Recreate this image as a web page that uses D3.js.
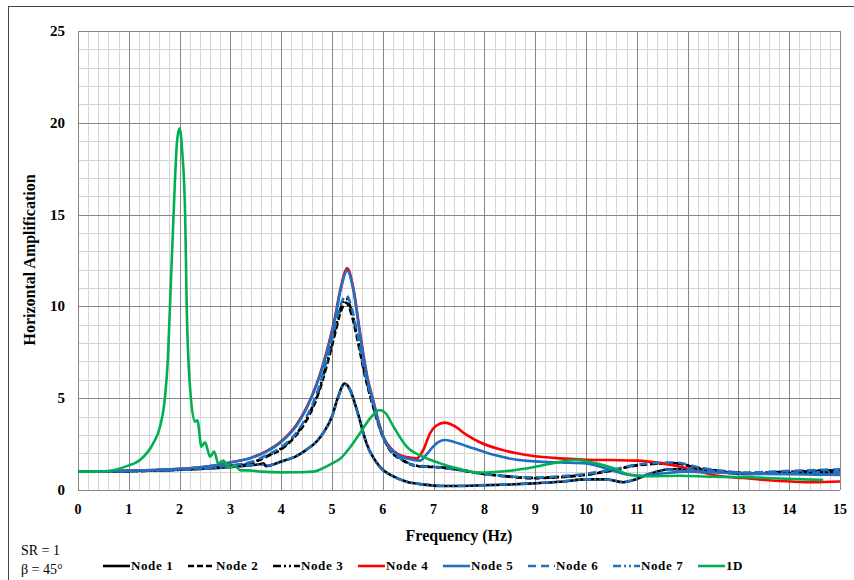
<!DOCTYPE html>
<html lang="en">
<head>
<meta charset="utf-8">
<title>Horizontal Amplification</title>
<script src="https://cdn.jsdelivr.net/npm/d3@7"></script>
<style>
  body { margin: 0; background: #fff; }
  text { font-family: "Liberation Serif", "Times New Roman", serif; }
</style>
</head>
<body>
<script>
// tick labels
var xTicks = [0,1,2,3,4,5,6,7,8,9,10,11,12,13,14,15];
var yTicks = [0,5,10,15,20,25];

// series: [frequency (Hz), amplification]
var node1 = [[0,1.0],[0.5,1.01],[1,1.03],[1.5,1.06],[2,1.1],[2.5,1.16],[3,1.25],[3.3,1.32],[3.6,1.42],[3.65,1.45],[3.7,1.3],[4.0,1.55],[4.3,1.85],[4.5,2.2],[4.7,2.65],[4.85,3.2],[5.0,4.0],[5.1,4.9],[5.25,5.8],[5.35,5.5],[5.49,4.36],[5.68,2.54],[5.94,1.27],[6.2,0.75],[6.47,0.45],[6.8,0.3],[7.13,0.22],[7.5,0.22],[8,0.26],[8.5,0.3],[8.96,0.36],[9.5,0.45],[10,0.58],[10.4,0.58],[10.73,0.42],[11.0,0.6],[11.2,0.82],[11.65,1.13],[12.2,1.13],[12.6,1.0],[13.16,0.87],[14,0.92],[15,0.97]];
var node2 = [[0,1.0],[0.5,1.01],[1,1.03],[1.5,1.06],[2,1.1],[2.5,1.18],[3,1.3],[3.4,1.45],[3.7,1.8],[4.04,2.3],[4.3,3.0],[4.5,3.8],[4.7,5.0],[4.9,6.8],[5.05,8.4],[5.17,9.7],[5.28,10.2],[5.38,9.6],[5.5,8.2],[5.65,6.2],[5.81,4.54],[6.0,2.9],[6.14,2.18],[6.4,1.6],[6.67,1.3],[7.13,1.23],[7.5,1.1],[7.91,0.91],[8.5,0.72],[8.96,0.64],[9.5,0.7],[10,0.82],[10.5,1.05],[11.06,1.36],[11.72,1.45],[12.24,1.18],[12.7,1.0],[13.16,0.91],[14,0.98],[15,1.09]];
var node3 = [[0,1.0],[0.5,1.01],[1,1.03],[1.5,1.06],[2,1.11],[2.5,1.19],[3,1.32],[3.4,1.48],[3.7,1.83],[4.04,2.35],[4.3,3.05],[4.5,3.9],[4.7,5.1],[4.9,6.95],[5.05,8.6],[5.17,9.9],[5.28,10.4],[5.38,9.8],[5.5,8.35],[5.65,6.3],[5.81,4.6],[6.0,2.95],[6.14,2.2],[6.4,1.62],[6.67,1.32],[7.13,1.24],[7.5,1.1],[7.91,0.92],[8.5,0.73],[8.96,0.66],[9.5,0.72],[10,0.84],[10.5,1.07],[11.06,1.38],[11.72,1.47],[12.24,1.2],[12.7,1.02],[13.16,0.93],[14,1.0],[15,1.1]];
var node4 = [[0,1.0],[0.5,1.02],[1,1.05],[1.5,1.09],[2,1.15],[2.5,1.27],[3,1.5],[3.4,1.75],[3.7,2.1],[4.0,2.65],[4.3,3.55],[4.5,4.5],[4.7,5.8],[4.9,7.6],[5.05,9.3],[5.17,11.0],[5.3,12.07],[5.42,11.0],[5.55,8.6],[5.7,6.1],[5.81,4.9],[5.92,3.7],[6.01,2.9],[6.15,2.3],[6.3,1.95],[6.5,1.78],[6.67,1.72],[6.8,2.2],[6.93,3.09],[7.05,3.5],[7.22,3.67],[7.4,3.5],[7.65,3.0],[7.91,2.6],[8.3,2.22],[8.64,2.0],[8.96,1.85],[9.5,1.72],[10,1.65],[10.5,1.63],[11,1.6],[11.5,1.45],[11.85,1.27],[12.24,1.0],[12.5,0.82],[13.1,0.65],[13.82,0.49],[14.47,0.42],[15,0.46]];
var node5 = [[0,1.0],[0.5,1.02],[1,1.05],[1.5,1.09],[2,1.15],[2.5,1.27],[3,1.5],[3.4,1.74],[3.7,2.08],[4.0,2.62],[4.3,3.5],[4.5,4.45],[4.7,5.75],[4.9,7.5],[5.05,9.2],[5.17,10.9],[5.3,11.95],[5.42,10.9],[5.55,8.5],[5.7,6.0],[5.81,4.85],[5.92,3.65],[6.01,2.85],[6.15,2.25],[6.3,1.9],[6.5,1.7],[6.73,1.6],[6.85,1.9],[6.99,2.36],[7.1,2.62],[7.22,2.72],[7.4,2.62],[7.78,2.27],[8.2,1.9],[8.64,1.65],[9,1.56],[9.5,1.5],[10,1.45],[10.47,1.1],[10.8,0.85],[11.1,0.78],[11.5,0.9],[12,1.0],[12.5,0.95],[13.5,0.88],[14.5,0.84],[15,0.82]];
var node6 = [[0,1.0],[0.5,1.01],[1,1.03],[1.5,1.07],[2,1.12],[2.5,1.2],[3,1.34],[3.4,1.52],[3.7,1.88],[4.04,2.42],[4.3,3.12],[4.5,4.0],[4.7,5.25],[4.9,7.1],[5.05,8.8],[5.17,10.1],[5.28,10.6],[5.38,10.0],[5.5,8.5],[5.65,6.4],[5.81,4.65],[6.0,2.98],[6.14,2.22],[6.4,1.63],[6.67,1.32],[7.13,1.22],[7.5,1.08],[7.91,0.9],[8.5,0.74],[8.96,0.68],[9.5,0.75],[10,0.88],[10.5,1.1],[11.06,1.4],[11.72,1.5],[12.24,1.22],[12.7,1.04],[13.16,0.95],[14,1.04],[15,1.13]];
var node7 = [[0,1.0],[0.5,1.01],[1,1.03],[1.5,1.06],[2,1.1],[2.5,1.16],[3,1.25],[3.3,1.32],[3.6,1.4],[3.7,1.32],[4.0,1.55],[4.3,1.85],[4.5,2.2],[4.7,2.65],[4.85,3.2],[5.0,4.0],[5.1,4.85],[5.25,5.75],[5.35,5.45],[5.49,4.3],[5.68,2.5],[5.94,1.25],[6.2,0.74],[6.47,0.45],[6.8,0.3],[7.13,0.23],[7.5,0.23],[8,0.27],[8.5,0.31],[8.96,0.37],[9.5,0.46],[10,0.58],[10.4,0.57],[10.73,0.44],[11.0,0.62],[11.2,0.84],[11.65,1.12],[12.2,1.12],[12.6,1.0],[13.16,0.88],[14,0.93],[15,0.98]];
var oneD = [[0,1.0],[0.3,1.0],[0.63,1.05],[0.96,1.3],[1.22,1.63],[1.48,2.54],[1.61,3.4],[1.71,5.0],[1.77,7.2],[1.81,9.98],[1.88,14.9],[1.95,19.0],[2.0,19.7],[2.05,18.5],[2.11,14.9],[2.14,10.0],[2.2,5.8],[2.3,3.72],[2.35,3.8],[2.43,2.36],[2.5,2.6],[2.6,1.81],[2.68,2.1],[2.76,1.45],[2.86,1.6],[2.96,1.25],[3.09,1.3],[3.2,1.07],[3.35,1.07],[3.6,1.0],[4.0,0.96],[4.4,0.97],[4.63,1.0],[4.83,1.2],[5.0,1.45],[5.16,1.7],[5.35,2.3],[5.55,3.09],[5.75,3.9],[5.94,4.36],[6.05,4.2],[6.21,3.45],[6.47,2.36],[6.8,1.8],[7.13,1.45],[7.5,1.15],[7.91,0.95],[8.5,1.05],[8.96,1.24],[9.4,1.48],[9.78,1.63],[10.2,1.45],[10.54,1.18],[10.87,0.82],[11.2,0.75],[11.85,0.78],[12.5,0.72],[13.1,0.7],[13.8,0.63],[14.67,0.54]];

var seriesNames = ["Node 1","Node 2","Node 3","Node 4","Node 5","Node 6","Node 7","1D"];
var seriesData = [node1, node2, node3, node4, node5, node6, node7, oneD];
var seriesColors = ["#000000","#000000","#000000","#ff0000","#1f70c1","#1f70c1","#1f70c1","#00b050"];
var seriesDash = [null, "6,3", "8,3,2,3,2,3", null, null, "8,5", "8,3,2,3,2,3", null];

var width = 854, height = 580;
var svg = d3.select("body").append("svg")
    .attr("width", width)
    .attr("height", height);

// outer frame
svg.append("rect")
    .attr("x", 8.5).attr("y", 6.5)
    .attr("width", 860).attr("height", 600)
    .attr("fill", "none").attr("stroke", "#444").attr("stroke-width", 1);

var x = d3.scaleLinear().domain([0, 15]).range([78, 840]);
var y = d3.scaleLinear().domain([0, 25]).range([490, 31]);

// grid
var grid = svg.append("g");
grid.selectAll(".vminor").data(d3.range(0, 75).map(function(i) { return i * 0.2; }))
    .enter().append("line")
    .attr("x1", function(d) { return Math.round(x(d)) + 0.5; })
    .attr("x2", function(d) { return Math.round(x(d)) + 0.5; })
    .attr("y1", y(25)).attr("y2", y(0))
    .attr("stroke", "#d4d4d4");
grid.selectAll(".hminor").data(d3.range(0, 26))
    .enter().append("line")
    .attr("y1", function(d) { return Math.round(y(d)) + 0.5; })
    .attr("y2", function(d) { return Math.round(y(d)) + 0.5; })
    .attr("x1", x(0)).attr("x2", x(15))
    .attr("stroke", "#d4d4d4");
grid.selectAll(".vmajor").data(xTicks)
    .enter().append("line")
    .attr("x1", function(d) { return Math.round(x(d)) + 0.5; })
    .attr("x2", function(d) { return Math.round(x(d)) + 0.5; })
    .attr("y1", y(25)).attr("y2", y(0))
    .attr("stroke", "#868686");
grid.selectAll(".hmajor").data(yTicks)
    .enter().append("line")
    .attr("y1", function(d) { return Math.round(y(d)) + 0.5; })
    .attr("y2", function(d) { return Math.round(y(d)) + 0.5; })
    .attr("x1", x(0)).attr("x2", x(15))
    .attr("stroke", "#868686");

// tick labels
svg.selectAll(".ylab").data(yTicks).enter().append("text")
    .attr("x", 65).attr("y", function(d) { return y(d) + 5; })
    .attr("text-anchor", "end")
    .attr("font-size", 15).attr("font-weight", "bold")
    .text(function(d) { return d; });
svg.selectAll(".xlab").data(xTicks).enter().append("text")
    .attr("x", function(d) { return x(d); }).attr("y", 514)
    .attr("text-anchor", "middle")
    .attr("font-size", 14).attr("font-weight", "bold")
    .text(function(d) { return d; });

// axis titles
svg.append("text")
    .attr("x", 459).attr("y", 541)
    .attr("text-anchor", "middle")
    .attr("font-size", 16).attr("font-weight", "bold")
    .text("Frequency (Hz)");
svg.append("text")
    .attr("transform", "translate(35,260) rotate(-90)")
    .attr("text-anchor", "middle")
    .attr("font-size", 16).attr("font-weight", "bold")
    .text("Horizontal Amplification");

// curves
var line = d3.line()
    .x(function(d) { return x(d[0]); })
    .y(function(d) { return y(d[1]); })
    .curve(d3.curveMonotoneX);

svg.append("g").selectAll("path").data(seriesData).enter().append("path")
    .attr("d", line)
    .attr("fill", "none")
    .attr("stroke", function(d, i) { return seriesColors[i]; })
    .attr("stroke-width", 2.6)
    .attr("stroke-dasharray", function(d, i) { return seriesDash[i]; });

// notes
svg.append("text").attr("x", 21).attr("y", 555).attr("font-size", 14).text("SR = 1");
svg.append("text").attr("x", 21).attr("y", 574).attr("font-size", 14).text("\u03b2 = 45\u00b0");

// legend
var legend = svg.append("g").selectAll("g").data(seriesNames).enter().append("g")
    .attr("transform", function(d, i) { return "translate(" + (103 + i * 85) + ",570)"; });
legend.append("line")
    .attr("x1", 0).attr("x2", 27).attr("y1", -4).attr("y2", -4)
    .attr("stroke", function(d, i) { return seriesColors[i]; })
    .attr("stroke-width", 2.6)
    .attr("stroke-dasharray", function(d, i) { return seriesDash[i]; });
legend.append("text")
    .attr("x", 28).attr("y", 0)
    .attr("font-size", 13).attr("font-weight", "bold")
    .attr("letter-spacing", 0.6)
    .text(function(d) { return d; });
</script>
</body>
</html>
